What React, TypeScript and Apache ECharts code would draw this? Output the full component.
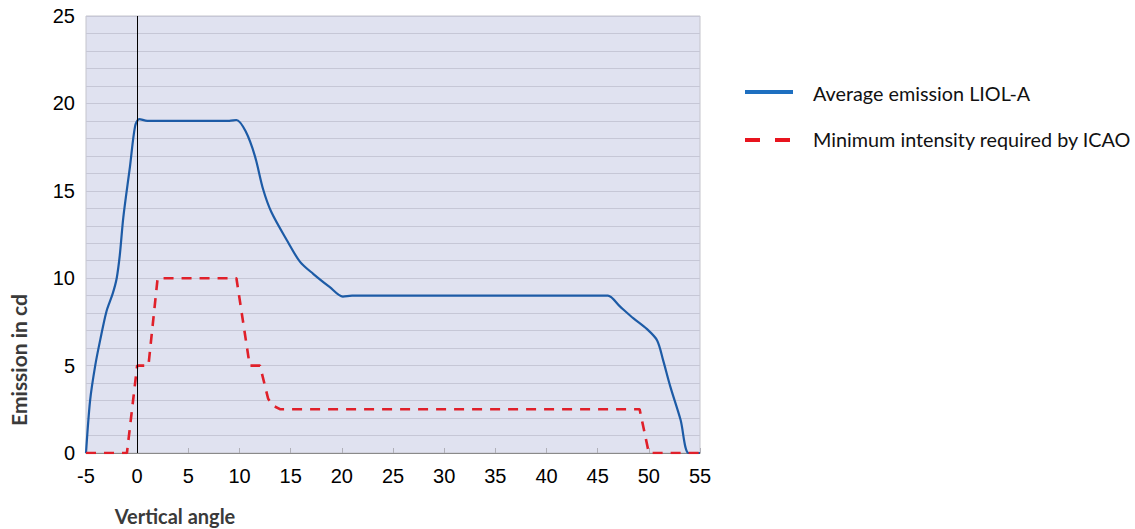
import React, { useEffect, useRef } from "react";
import * as echarts from "echarts";

const xTicks = [-5, 0, 5, 10, 15, 20, 25, 30, 35, 40, 45, 50, 55];
const yTickLabels = [0, 5, 10, 15, 20, 25];

const avgEmission: [number, number][] = [
  [-5, 0], [-4.6, 3], [-4.1, 5], [-3.6, 6.5], [-3, 8.1], [-2.4, 9.1], [-2, 10],
  [-1.7, 11.3], [-1.35, 13.5], [-0.7, 16.4], [-0.2, 18.7], [0.2, 19.1], [1, 19],
  [9, 19], [9.7, 19.05], [10.6, 18.4], [11.5, 17], [12.3, 15.1], [13.1, 13.8],
  [14.6, 12.2], [15.9, 10.95], [17.2, 10.25], [18.8, 9.5], [20.1, 8.95], [21, 9],
  [45.5, 9], [46, 9], [47.2, 8.37], [48.5, 7.7], [49.8, 7.1], [50.8, 6.45],
  [51.4, 5.3], [52.1, 3.8], [53.1, 1.9], [53.9, 0], [55, 0],
];

const icaoMinimum: [number, number][] = [
  [-5, 0], [-1, 0], [0, 5], [1.1, 5], [2, 10], [9.7, 10], [11, 5], [12, 5],
  [12.8, 3.1], [13.3, 2.7], [14, 2.5], [49.1, 2.5], [50, 0], [55, 0],
];

const seriesNames = ["Average emission LIOL-A", "Minimum intensity required by ICAO"];
const axisTitles = { x: "Vertical angle", y: "Emission in cd" };

export default function App() {
  const ref = useRef<HTMLDivElement>(null);
  useEffect(() => {
    if (!ref.current) return;
    const chart = echarts.init(ref.current, undefined, { renderer: "svg" });
    const blue = "#1d5ba6";
    const red = "#e0202a";
    chart.setOption({
      animation: false,
      backgroundColor: "#ffffff",
      grid: {
        left: 86, right: 435, top: 16, bottom: 76,
        show: true, backgroundColor: "#e0e2f0", borderColor: "#c4c4cc", borderWidth: 1,
      },
      xAxis: {
        type: "value", min: -5, max: 55, interval: 5,
        axisLine: { show: true, onZero: false, lineStyle: { color: "#8a8a8a", width: 1 } },
        axisTick: { show: true, inside: true, length: 5, lineStyle: { color: "#b0b0b8" } },
        splitLine: { show: false },
        axisLabel: {
          color: "#000", fontSize: 20, fontFamily: "Liberation Sans", margin: 13,
          formatter: (v: number) => (xTicks.includes(v) ? String(v) : ""),
        },
      },
      yAxis: {
        type: "value", min: 0, max: 25, interval: 1,
        axisLine: { show: false },
        axisTick: { show: false },
        splitLine: { show: true, lineStyle: { color: "#c6c7d6", width: 1 } },
        axisLabel: {
          color: "#000", fontSize: 20, fontFamily: "Liberation Sans", margin: 11,
          formatter: (v: number) => (yTickLabels.includes(v) ? String(v) : ""),
        },
      },
      series: [
        {
          name: seriesNames[0], type: "line", data: avgEmission, smooth: 0.3,
          symbol: "none", lineStyle: { color: blue, width: 2.2 }, z: 3,
          markLine: {
            silent: true, symbol: "none", label: { show: false },
            lineStyle: { color: "#000", width: 1, type: "solid" },
            data: [{ xAxis: 0 }],
          },
        },
        {
          name: seriesNames[1], type: "line", data: icaoMinimum, smooth: false,
          symbol: "none", lineStyle: { color: red, width: 2.6, type: [10, 8] }, z: 4,
        },
      ],
      graphic: [
        { type: "line", shape: { x1: 745, y1: 92, x2: 793, y2: 92 }, style: { stroke: "#1e6fc0", lineWidth: 4 } },
        { type: "line", shape: { x1: 745, y1: 140, x2: 760, y2: 140 }, style: { stroke: "#e8141e", lineWidth: 4 } },
        { type: "line", shape: { x1: 775, y1: 140, x2: 790, y2: 140 }, style: { stroke: "#e8141e", lineWidth: 4 } },
        {
          type: "text", x: 813, y: 93,
          style: { text: seriesNames[0], fill: "#111", font: "19.8px Lato", verticalAlign: "middle", align: "left" },
        },
        {
          type: "text", x: 813, y: 139,
          style: { text: seriesNames[1], fill: "#111", font: "19.8px Lato", verticalAlign: "middle", align: "left" },
        },
        {
          type: "text", x: 175, y: 516,
          style: { text: axisTitles.x, fill: "#3a3a3a", font: "bold 20px Lato", verticalAlign: "middle", align: "center" },
        },
        {
          type: "text", x: 18, y: 360, rotation: Math.PI / 2,
          style: { text: axisTitles.y, fill: "#3a3a3a", font: "bold 21px Lato", verticalAlign: "middle", align: "center" },
        },
      ],
    });
    return () => chart.dispose();
  }, []);
  return (
    <div
      ref={ref}
      style={{ position: "fixed", left: 0, top: 0, width: 1135, height: 529 }}
    />
  );
}
